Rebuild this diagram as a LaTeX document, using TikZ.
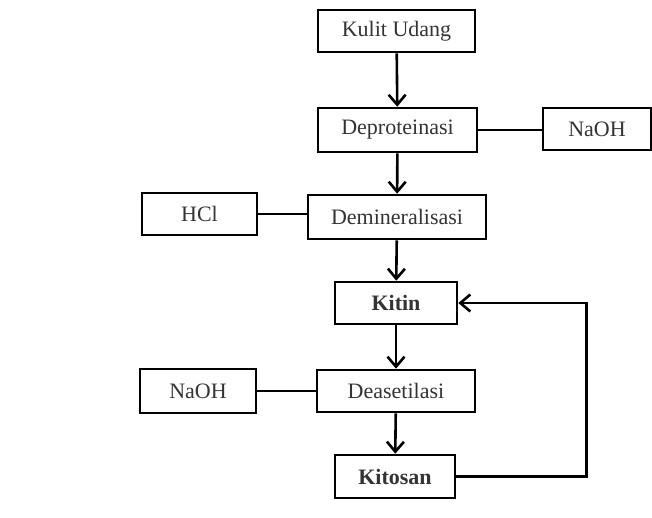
\documentclass[tikz,border=0pt]{standalone}
\usepackage{fontspec}
\setmainfont{Liberation Serif}
\usetikzlibrary{arrows.meta}

\begin{document}
\begin{tikzpicture}[x=1pt,y=-1pt,
    box/.style={draw=black,line width=2.6pt,inner sep=0pt,text=black!80,
      font=\fontsize{22}{26}\selectfont},
    arr/.style={line width=2.6pt,-{Straight Barb[length=10pt,width=17pt]}},
    link/.style={line width=2.6pt}]
   \useasboundingbox (0,0) rectangle (652,518);
   % main chain
   \node[box,minimum width=157pt,minimum height=42pt] (kulit)  at (396.5,31)  {Kulit Udang};
   \node[box,minimum width=159pt,minimum height=44pt] (deprot) at (397.5,130) {Deproteinasi};
   \node[box,minimum width=178pt,minimum height=44pt] (demin)  at (397,217)   {Demineralisasi};
   \node[box,minimum width=122pt,minimum height=42pt] (kitin)  at (396,303)   {\textbf{Kitin}};
   \node[box,minimum width=158pt,minimum height=42pt] (deas)   at (396,391)   {Deasetilasi};
   \node[box,minimum width=120pt,minimum height=43pt] (kitosan) at (395,476.5) {\textbf{Kitosan}};
   % reagents
   \node[box,minimum width=108pt,minimum height=42pt] (naohA) at (597,129) {NaOH};
   \node[box,minimum width=115pt,minimum height=42pt] (hcl)   at (199.5,214) {HCl};
   \node[box,minimum width=116pt,minimum height=44pt] (naohB) at (198,391) {NaOH};
   % arrows
   \draw[arr] (kulit)  -- (deprot);
   \draw[arr] (deprot) -- (demin);
   \draw[arr] (demin)  -- (kitin);
   \draw[arr] (kitin)  -- (deas);
   \draw[arr] (deas)   -- (kitosan);
   \draw[arr] (kitosan.east) -- ++(130,0) |- (kitin.east);
   % side links
   \draw[link] (deprot.east) -- (deprot.east -| naohA.west);
   \draw[link] (hcl.east)    -- (hcl.east -| demin.west);
   \draw[link] (naohB.east)  -- (naohB.east -| deas.west);
\end{tikzpicture}
\end{document}
